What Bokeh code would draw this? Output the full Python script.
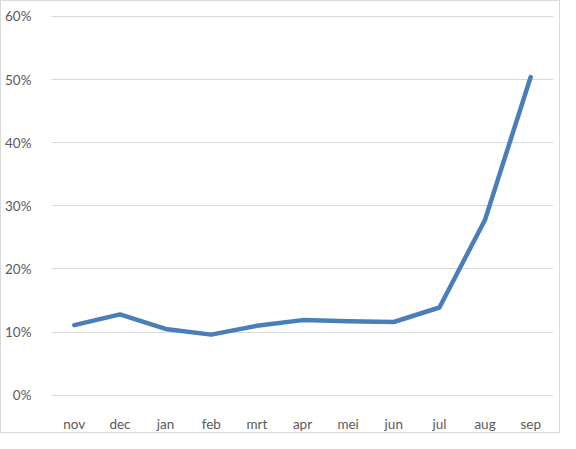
from bokeh.plotting import figure
from bokeh.models import NumeralTickFormatter, FactorRange, Range1d, FixedTicker
from bokeh.embed import file_html
from bokeh.resources import INLINE

months = ["nov", "dec", "jan", "feb", "mrt", "apr", "mei", "jun", "jul", "aug", "sep"]
share = [0.111, 0.128, 0.105, 0.096, 0.110, 0.119, 0.117, 0.116, 0.139, 0.278, 0.504]
y_ticks = [0.0, 0.1, 0.2, 0.3, 0.4, 0.5, 0.6]

p = figure(width=560, height=433, x_range=FactorRange(*months, range_padding=0),
           y_range=Range1d(-0.002, 0.6015), output_backend="svg", toolbar_location=None,
           min_border_left=50, min_border_right=8, min_border_top=14, min_border_bottom=27)
p.styles = {"border": "1px solid #d9d9d9", "box-sizing": "border-box"}

p.line(x=months, y=share, line_color="#4a7ebb", line_width=4.5, line_cap="round", line_join="round")

p.outline_line_color = None
p.background_fill_color = "white"
p.border_fill_color = "white"

p.yaxis.ticker = FixedTicker(ticks=y_ticks)
p.yaxis.formatter = NumeralTickFormatter(format="0%")
for ax in (p.xaxis[0], p.yaxis[0]):
    ax.axis_line_color = None
    ax.major_tick_line_color = None
    ax.minor_tick_line_color = None
    ax.major_label_text_font = "Lato"
    ax.major_label_text_font_size = "13.5px"
    ax.major_label_text_color = "#595959"
p.xaxis.major_label_standoff = 13
p.yaxis.major_label_standoff = 14

p.xgrid.grid_line_color = None
p.ygrid.grid_line_color = "#d9d9d9"
p.ygrid.grid_line_width = 1

open("out.html", "w").write(file_html(p, INLINE))
